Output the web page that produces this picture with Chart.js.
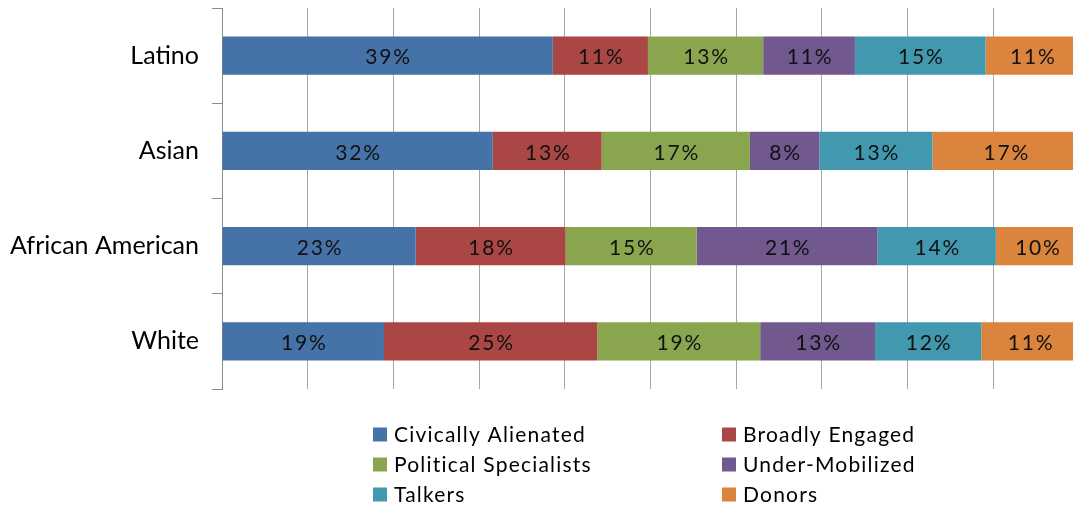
<!DOCTYPE html>
<html>
<head>
<meta charset="utf-8">
<script src="https://cdn.jsdelivr.net/npm/chart.js@4/dist/chart.umd.min.js"></script>
<style>
  html, body { margin: 0; padding: 0; background: #fff; overflow: hidden; }
  #wrap { width: 1085px; height: 508px; }
</style>
</head>
<body>
<div id="wrap"><canvas id="chart" width="1085" height="508"></canvas></div>
<script>
const groups = ['Latino', 'Asian', 'African American', 'White'];
const seriesNames = ['Civically Alienated', 'Broadly Engaged', 'Political Specialists', 'Under-Mobilized', 'Talkers', 'Donors'];
const seriesColors = ['#4572A7', '#AA4643', '#89A54E', '#71588F', '#4198AF', '#DB843D'];

// shares in percent
const civicallyAlienated = [38.6, 31.6, 22.6, 18.9];
const broadlyEngaged = [11.1, 12.7, 17.5, 24.9];
const politicalSpecialists = [13.45, 17.3, 15.3, 19.0];
const underMobilized = [10.7, 8.1, 21.1, 13.4];
const talkers = [15.25, 13.2, 13.8, 12.4];
const donors = [10.9, 17.1, 9.7, 11.4];

const xTicks = [0, 10, 20, 30, 40, 50, 60, 70, 80, 90, 100];

const allSeries = [civicallyAlienated, broadlyEngaged, politicalSpecialists, underMobilized, talkers, donors];
const FONT = 'Lato';

const barLabels = {
    id: 'barLabels',
    afterDatasetsDraw(chart) {
        const c = chart.ctx;
        c.save();
        c.font = '21px ' + FONT;
        c.letterSpacing = '1.8px';
        c.fillStyle = '#111';
        c.textAlign = 'center';
        c.textBaseline = 'middle';
        chart.data.datasets.forEach((ds, i) => {
            chart.getDatasetMeta(i).data.forEach((bar, j) => {
                const cx = (bar.x + bar.base) / 2 + 1;
                c.fillText(Math.round(ds.data[j]) + '%', cx, bar.y + 2);
            });
        });
        c.restore();
    }
};

const gridLegend = {
    id: 'gridLegend',
    afterDraw(chart) {
        const c = chart.ctx;
        const colX = [373, 722];
        c.save();
        c.font = '21px ' + FONT;
        c.letterSpacing = '1.2px';
        c.textBaseline = 'middle';
        c.textAlign = 'left';
        chart.data.datasets.forEach((ds, i) => {
            const x = colX[i % 2];
            const y = 434.5 + Math.floor(i / 2) * 30;
            c.fillStyle = ds.backgroundColor;
            c.fillRect(x, y - 7, 14, 14);
            c.fillStyle = '#000';
            c.fillText(ds.label, x + 21, y + 1);
        });
        c.restore();
    }
};

new Chart(document.getElementById('chart'), {
    type: 'bar',
    data: {
        labels: groups,
        datasets: seriesNames.map((name, i) => ({
            label: name,
            data: allSeries[i],
            backgroundColor: seriesColors[i],
            borderWidth: 0
        }))
    },
    options: {
        indexAxis: 'y',
        responsive: false,
        animation: false,
        barPercentage: 0.4,
        categoryPercentage: 1,
        layout: { padding: { left: 0, top: 8, right: 6, bottom: 119 } },
        plugins: {
            legend: { display: false },
            tooltip: { enabled: false }
        },
        scales: {
            x: {
                stacked: true,
                min: 0,
                max: 100,
                afterBuildTicks: s => { s.ticks = xTicks.map(v => ({ value: v })); },
                ticks: { display: false },
                grid: { color: '#a6a6a6', lineWidth: 1, drawTicks: false },
                border: { display: false },
                afterFit: s => { s.height = 0; }
            },
            y: {
                stacked: true,
                afterFit: s => { s.width = 222; s.paddingTop = 0; s.paddingBottom = 0; },
                ticks: { color: '#000', font: { family: FONT, size: 25 }, padding: 13 },
                grid: { drawOnChartArea: false, drawTicks: true, tickLength: 10, color: '#8c8c8c', offset: true },
                border: { display: true, color: '#8c8c8c' }
            }
        }
    },
    plugins: [barLabels, gridLegend]
});
</script>
</body>
</html>
